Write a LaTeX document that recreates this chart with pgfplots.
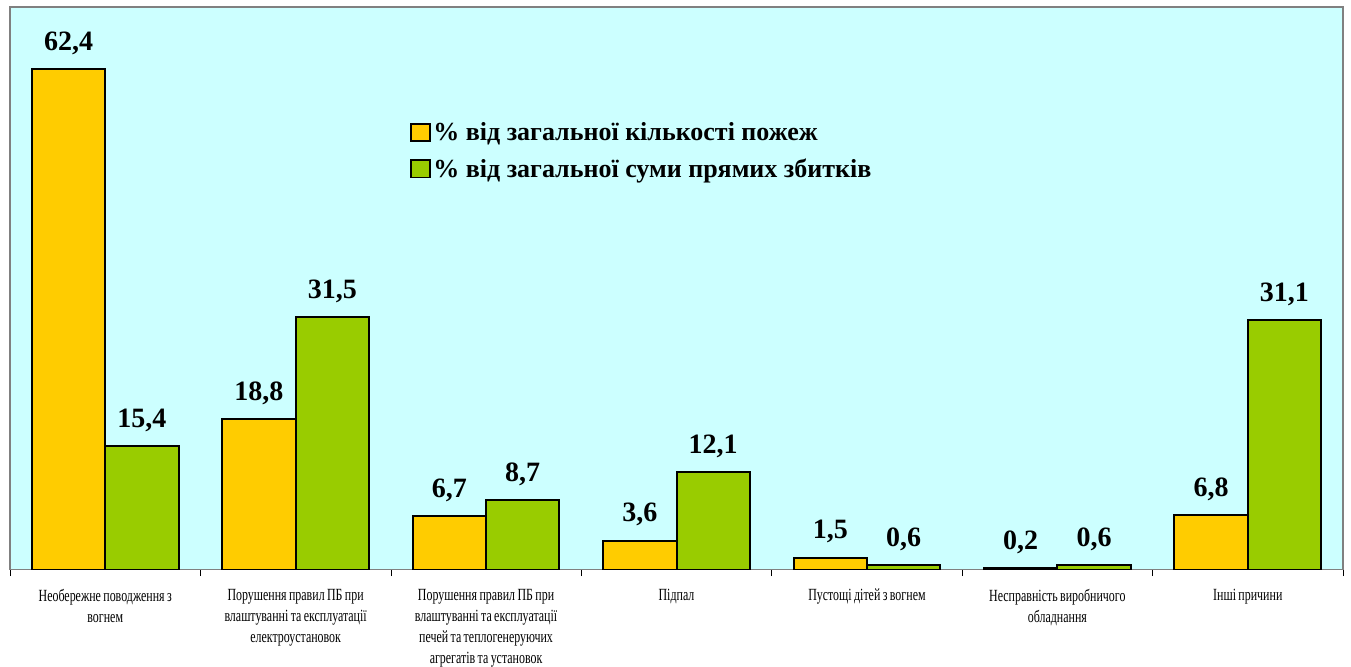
\documentclass[border=0pt]{standalone}
\usepackage{fontspec}
\setmainfont{Liberation Serif}
\newfontfamily\catfont[FakeStretch=0.7, WordSpace=0.8]{Liberation Serif}
\usepackage{pgfplots}
\pgfplotsset{compat=1.18}
\definecolor{barY}{HTML}{FFCC00}
\definecolor{barG}{HTML}{99CC00}
\definecolor{bgC}{HTML}{CCFFFF}
\definecolor{frameG}{HTML}{808080}

\begin{document}
\begin{tikzpicture}
\begin{axis}[
  scale only axis,
  width=1000pt, height=422pt,
  xmin=-0.5, xmax=6.5, ymin=0, ymax=70.1,
  axis background/.style={fill=bgC},
  axis line style={draw=frameG, line width=1.4pt},
  ytick=\empty,
  xtick={0,...,6},
  xticklabels={
    {Необережне поводження з\\вогнем},
    {Порушення правил ПБ при\\влаштуванні та експлуатації\\електроустановок},
    {Порушення правил ПБ при\\влаштуванні та експлуатації\\печей та теплогенеруючих\\агрегатів та установок},
    {Підпал},
    {Пустощі дітей з вогнем},
    {Несправність виробничого\\обладнання},
    {Інші причини}},
  major tick length=0pt,
  extra x ticks={-0.5,0.5,...,6.5},
  extra x tick labels={},
  extra x tick style={major tick length=5pt, tick align=outside,
    tick style={draw=black, line width=0.5pt}},
  xtick pos=bottom,
  xticklabel style={font=\catfont\fontsize{12.8}{15.75}\selectfont,
    align=center, anchor=north, inner sep=0pt, yshift=-14.5pt},
  ybar=0pt,
  bar width=0.385,
  nodes near coords,
  nodes near coords style={font=\bfseries\fontsize{21}{24}\selectfont,
    anchor=south, inner sep=0pt, yshift=10pt,
    /pgf/number format/.cd, fixed, fixed zerofill, precision=1, use comma,
    assume math mode=true},
  legend style={at={(0.300,0.800)}, anchor=north west, draw=none, fill=none,
    font=\bfseries\fontsize{19.5}{24}\selectfont,
    row sep=8pt, inner sep=0pt},
  legend cell align=left,
  legend image code/.code={\draw[#1, line width=1.4pt] (0pt,-6.5pt) rectangle (14pt,6.5pt);},
]
  \addplot[fill=barY, draw=black, line width=1.5pt]
    coordinates {(0,62.4)(1,18.8)(2,6.7)(3,3.6)(4,1.5)(5,0.2)(6,6.8)};
  \addplot[fill=barG, draw=black, line width=1.5pt]
    coordinates {(0,15.4)(1,31.5)(2,8.7)(3,12.1)(4,0.6)(5,0.6)(6,31.1)};
  \legend{\% від загальної кількості пожеж, \% від загальної суми прямих збитків}
\end{axis}
\path ([shift={(-7.5pt,-72pt)}]current axis.south west)
  rectangle ([shift={(6pt,5.25pt)}]current axis.north east);
\end{tikzpicture}
\end{document}
